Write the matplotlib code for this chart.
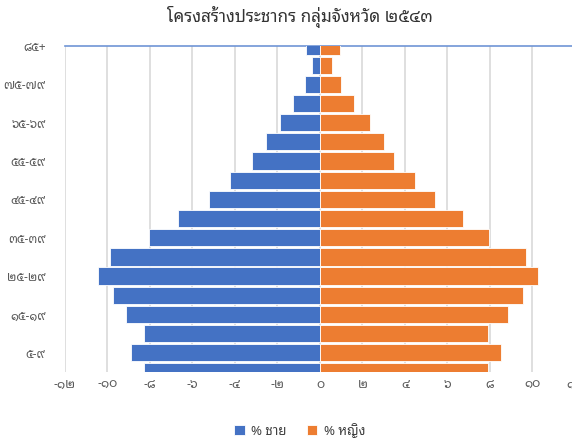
import matplotlib
matplotlib.use("Agg")
import matplotlib.pyplot as plt

plt.rcParams['font.family'] = ['Noto Sans Thai Looped', 'DejaVu Sans']

# age groups, bottom to top
age_groups = ['๐-๔', '๕-๙', '๑๐-๑๔', '๑๕-๑๙', '๒๐-๒๔', '๒๕-๒๙', '๓๐-๓๔', '๓๕-๓๙',
              '๔๐-๔๔', '๔๕-๔๙', '๕๐-๕๔', '๕๕-๕๙', '๖๐-๖๔', '๖๕-๖๙', '๗๐-๗๔',
              '๗๕-๗๙', '๘๐-๘๔', '๘๕+']
male = [8.27, 8.91, 8.30, 9.11, 9.76, 10.45, 9.87, 8.03, 6.70, 5.21, 4.22,
        3.20, 2.56, 1.90, 1.29, 0.71, 0.36, 0.67]
female = [7.91, 8.50, 7.92, 8.86, 9.55, 10.26, 9.71, 7.95, 6.73, 5.41, 4.49,
          3.50, 3.00, 2.35, 1.62, 1.00, 0.56, 0.94]
xticks = [-12, -10, -8, -6, -4, -2, 0, 2, 4, 6, 8, 10, 12]
xtick_labels = ['-๑๒', '-๑๐', '-๘', '-๖', '-๔', '-๒', '๐', '๒', '๔', '๖', '๘', '๑๐', '๑๒']

blue = '#4472C4'
orange = '#ED7D31'

fig = plt.figure(figsize=(5.72, 4.43), dpi=100)
ax = fig.add_axes([0.1136, 0.1603, 0.8916, 0.7359])

pos = list(range(len(age_groups)))
ax.barh(pos, [-m for m in male], height=0.9, color=blue, edgecolor='white',
        linewidth=0.6, label='% ชาย', zorder=3)
ax.barh(pos, female, height=0.9, color=orange, edgecolor='white',
        linewidth=0.6, label='% หญิง', zorder=3)

ax.set_xlim(-12, 12)
ax.set_ylim(0, len(age_groups) - 1)
ax.set_xticks(xticks)
ax.set_xticklabels(xtick_labels)
ax.set_yticks(pos[1::2])
ax.set_yticklabels(age_groups[1::2])
ax.tick_params(length=0, labelcolor='#595959')
ax.tick_params(axis='x', pad=4, labelsize=9)
ax.tick_params(axis='y', pad=14, labelsize=8.6)
ax.xaxis.grid(True, color='#D9D9D9', linewidth=1.2, zorder=0)
for s in ['left', 'right', 'bottom']:
    ax.spines[s].set_visible(False)
ax.spines['top'].set_color('#6F95D6')
ax.spines['top'].set_linewidth(1.2)

fig.text(0.524, 0.962, 'โครงสร้างประชากร กลุ่มจังหวัด ๒๕๔๓', ha='center', va='center',
         fontsize=12.3, color='#333333')
fig.legend(loc='center', bbox_to_anchor=(0.524, 0.029), ncol=2, frameon=False,
           handlelength=0.8, handleheight=0.8, columnspacing=1.5, handletextpad=0.5,
           fontsize=9.5, labelcolor='#404040')

fig.savefig("out.png", dpi=100)
